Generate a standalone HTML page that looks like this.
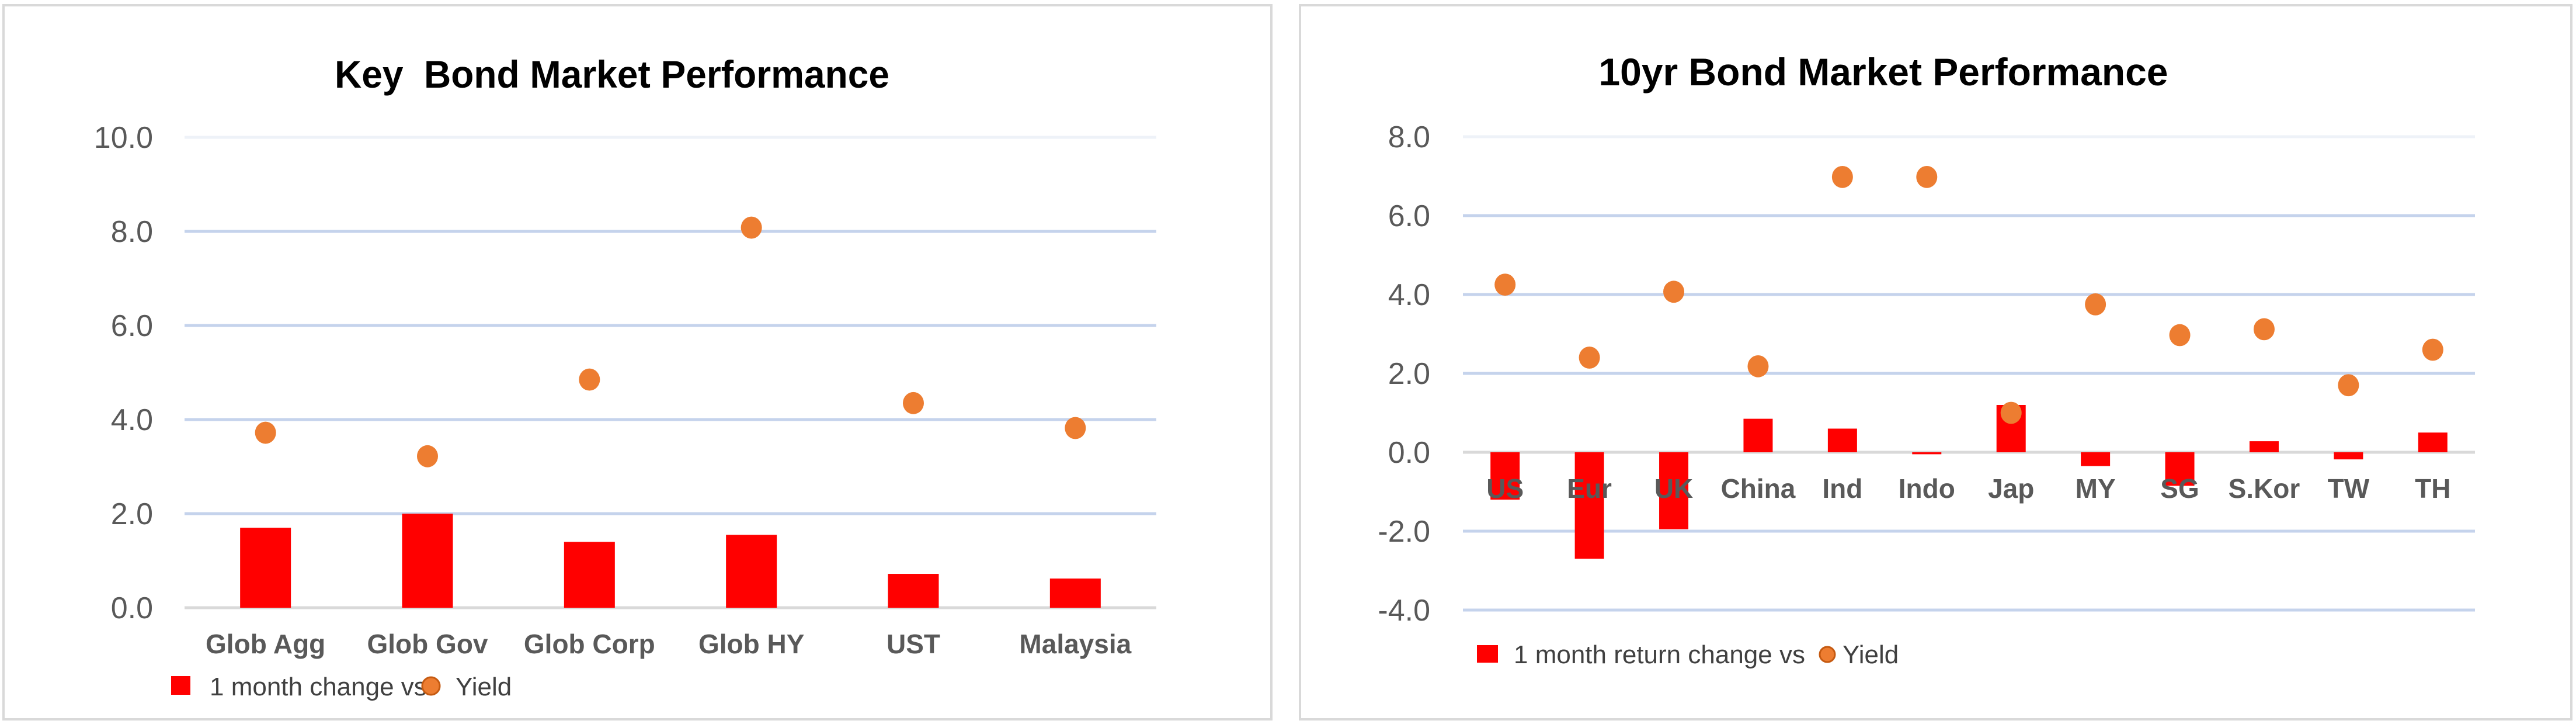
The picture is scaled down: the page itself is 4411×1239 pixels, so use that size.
<!DOCTYPE html>
<html><head><meta charset="utf-8"><style>
html,body{margin:0;padding:0;background:#fff;}
svg{display:block;font-family:"Liberation Sans Narrow","Liberation Sans",sans-serif;}
</style></head><body>
<svg id="c" width="4411" height="1239" viewBox="0 0 4411 1239" xmlns="http://www.w3.org/2000/svg">
<rect x="0" y="0" width="4411" height="1239" fill="#fff"/>
<rect x="6" y="9" width="2171" height="1222" fill="#fff" stroke="#d9d9d9" stroke-width="4"/>
<rect x="2226" y="9" width="2177" height="1222" fill="#fff" stroke="#d9d9d9" stroke-width="4"/>
<text x="1048" y="150" text-anchor="middle" font-size="66" font-weight="bold" fill="#000" textLength="950" lengthAdjust="spacingAndGlyphs" xml:space="preserve">Key  Bond Market Performance</text>
<text x="3225" y="146" text-anchor="middle" font-size="66" font-weight="bold" fill="#000" textLength="975" lengthAdjust="spacingAndGlyphs">10yr Bond Market Performance</text>
<g id="L"></g><g id="R"></g>
<g>
<rect x="293" y="1157" width="33" height="32" fill="#ff0000"/>
<text x="359" y="1190" font-size="44" fill="#404040">1 month change vs</text>
<circle cx="738" cy="1174" r="15" fill="#ed7d31" stroke="#c55a11" stroke-width="3"/>
<text x="780" y="1190" font-size="44" fill="#404040">Yield</text>
</g>
<g>
<rect x="2529" y="1104" width="36" height="30" fill="#ff0000"/>
<text x="2592" y="1135" font-size="44" fill="#404040">1 month return change vs</text>
<circle cx="3129" cy="1120" r="13" fill="#ed7d31" stroke="#c55a11" stroke-width="3"/>
<text x="3155" y="1135" font-size="44" fill="#404040">Yield</text>
</g>
</svg>
<script>
const leftCats = ["Glob Agg","Glob Gov","Glob Corp","Glob HY","UST","Malaysia"];
const leftChange = [1.7, 2.0, 1.4, 1.55, 0.72, 0.62];
const leftYield = [3.72, 3.22, 4.85, 8.08, 4.35, 3.82];
const leftTicks = [0, 2, 4, 6, 8, 10];
const rightCats = ["US","Eur","UK","China","Ind","Indo","Jap","MY","SG","S.Kor","TW","TH"];
const rightChange = [-1.2, -2.7, -1.95, 0.85, 0.6, -0.05, 1.2, -0.35, -0.85, 0.28, -0.18, 0.5];
const rightYield = [4.25, 2.4, 4.07, 2.18, 6.98, 6.98, 1.0, 3.75, 2.97, 3.12, 1.7, 2.6];
const rightTicks = [-4, -2, 0, 2, 4, 6, 8];

const NS = "http://www.w3.org/2000/svg";
function mk(parent, tag, attrs){
  const e = document.createElementNS(NS, tag);
  for (const k in attrs) e.setAttribute(k, attrs[k]);
  parent.appendChild(e);
  return e;
}
function draw(g, cfg, cats, change, yields, ticks, prefix){
  const y = v => cfg.y0 + (v - cfg.vmin) / (cfg.vmax - cfg.vmin) * (cfg.y1 - cfg.y0);
  const step = (cfg.x1 - cfg.x0) / cats.length;
  const x = i => cfg.x0 + step * (i + 0.5);
  ticks.forEach(t => {
    const line = mk(g, "line", {x1: cfg.x0, x2: cfg.x1, y1: y(t), y2: y(t),
      stroke: t === 0 ? "#d9d9d9" : (t === ticks[ticks.length-1] ? "#eef2f8" : "#c5d3ec"), "stroke-width": 5});
    
    
    const lab = mk(g, "text", {x: cfg.tx, y: y(t) + 18, "text-anchor": "end", "font-size": 52, fill: "#595959"});
    lab.textContent = t.toFixed(1);
    
    
  });
  change.forEach((v, i) => {
    const top = Math.min(y(v), y(0)), h = Math.max(Math.abs(y(v) - y(0)), 2);
    const b = mk(g, "rect", {x: x(i) - cfg.bw/2, y: top, width: cfg.bw, height: h, fill: "#ff0000"});
    
    
  });
  cats.forEach((c, i) => {
    const t = mk(g, "text", {x: x(i), y: cfg.ly, "text-anchor": "middle", "font-size": 46, "font-weight": "bold", fill: "#595959"});
    t.textContent = c;
    
    
  });
  yields.forEach((v, i) => {
    const p = mk(g, "ellipse", {cx: x(i), cy: y(v), rx: cfg.r, ry: cfg.r * 1.05, fill: "#ed7d31"});
    
    
  });
}
draw(document.getElementById("L"), {x0: 316, x1: 1980, y0: 1040, y1: 235, vmin: 0, vmax: 10, tx: 262, bw: 87, ly: 1118, r: 18},
  leftCats, leftChange, leftYield, leftTicks, 'left');
draw(document.getElementById("R"), {x0: 2505, x1: 4238, y0: 1044, y1: 234, vmin: -4, vmax: 8, tx: 2449, bw: 50, ly: 852, r: 18},
  rightCats, rightChange, rightYield, rightTicks, 'right');
</script>
</body></html>
